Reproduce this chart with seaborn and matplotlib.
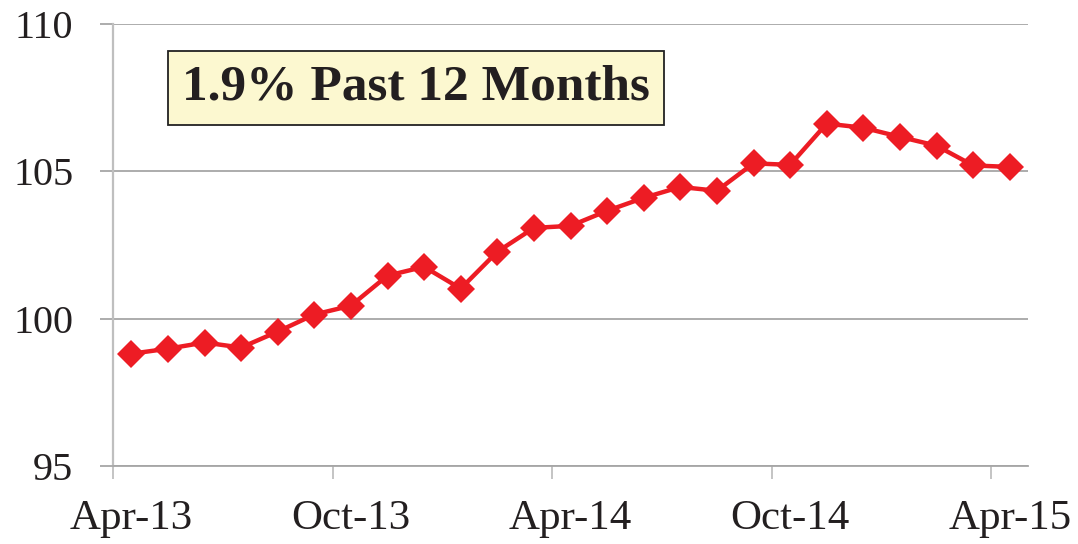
"""
Monthly index, Apr-13 to Apr-15, with 12-month change callout.
"""

import pandas as pd
import matplotlib.pyplot as plt
import seaborn as sns

# Chart data
months = ['Apr-13', 'May-13', 'Jun-13', 'Jul-13', 'Aug-13', 'Sep-13',
          'Oct-13', 'Nov-13', 'Dec-13', 'Jan-14', 'Feb-14', 'Mar-14',
          'Apr-14', 'May-14', 'Jun-14', 'Jul-14', 'Aug-14', 'Sep-14',
          'Oct-14', 'Nov-14', 'Dec-14', 'Jan-15', 'Feb-15', 'Mar-15',
          'Apr-15']
values = [98.81, 98.98, 99.19, 99.02, 99.56, 100.14,
          100.44, 101.46, 101.76, 101.02, 102.27, 103.08,
          103.15, 103.66, 104.10, 104.47, 104.34, 105.27,
          105.22, 106.62, 106.48, 106.17, 105.87, 105.20,
          105.15]
tick_months = ['Apr-13', 'Oct-13', 'Apr-14', 'Oct-14', 'Apr-15']
y_ticks = [95, 100, 105, 110]
callout = '1.9% Past 12 Months'

sns.set_style("white")
plt.rcParams['font.family'] = ['Liberation Serif', 'DejaVu Serif']
text_color = '#231F20'

df = pd.DataFrame({'month': months, 'value': values})
df['pos'] = range(len(df))

fig = plt.figure(figsize=(10.78, 5.44), dpi=100)
ax = fig.add_axes([113 / 1078, 78 / 544, 915 / 1078, 442 / 544])

sns.lineplot(data=df, x='pos', y='value', ax=ax, color='#ED1C24',
             linewidth=3.2, marker='D', markersize=14,
             markeredgecolor='#ED1C24', markeredgewidth=0)

# y axis
ax.set_ylim(95, 110)
ax.set_yticks(y_ticks)
ax.set_yticklabels([str(t) for t in y_ticks], fontsize=29)
ax.yaxis.grid(True, color='#A6A6A6', linewidth=1.3)
ax.tick_params(axis='y', left=True, length=9.5, width=1.3, color='#A6A6A6',
               pad=19, labelcolor=text_color)

# x axis: ticks between categories, labels at category centres
ax.set_xlim(-0.5, len(months) - 0.5)
boundaries = [months.index(m) - 0.5 for m in tick_months]
ax.set_xticks(boundaries)
ax.set_xticklabels([''] * len(boundaries))
ax.tick_params(axis='x', which='major', bottom=True, length=9.5, width=1.3,
               color='#BFBFBF')
ax.set_xticks([months.index(m) for m in tick_months], minor=True)
ax.set_xticklabels(tick_months, minor=True, fontsize=31)
ax.tick_params(axis='x', which='minor', bottom=True, length=0, pad=24,
               labelcolor=text_color)

ax.set_xlabel('')
ax.set_ylabel('')

for side in ['top', 'right']:
    ax.spines[side].set_visible(False)
ax.spines['left'].set_color('#BFBFBF')
ax.spines['left'].set_linewidth(1.6)
ax.spines['bottom'].set_color('#A6A6A6')
ax.spines['bottom'].set_linewidth(1.3)

# Callout box
ax.text(0.0752, 0.856, callout, transform=ax.transAxes, fontsize=37,
        fontweight='bold', ha='left', va='center', color=text_color,
        bbox=dict(boxstyle='square,pad=0.27', fc='#FCF8D0', ec='#222222', lw=1.3))

fig.savefig('out.png', dpi=100)
plt.close(fig)
